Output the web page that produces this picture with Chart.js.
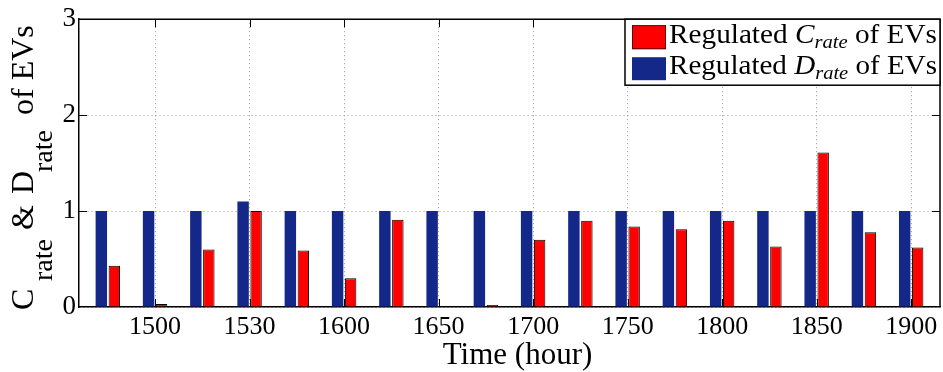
<!DOCTYPE html>
<html>
<head>
<meta charset="utf-8">
<script src="https://cdn.jsdelivr.net/npm/chart.js@4.4.0/dist/chart.umd.min.js"></script>
<style>
  html, body { margin: 0; padding: 0; background: #fff; }
  #wrap { position: relative; width: 943px; height: 372px; }
</style>
</head>
<body>
<div id="wrap"><canvas id="c" width="943" height="372"></canvas></div>
<script>
// groups along the time axis (one per 15 min slot)
const groups = [1, 2, 3, 4, 5, 6, 7, 8, 9, 10, 11, 12, 13, 14, 15, 16, 17, 18];
const tickPos = [2, 4, 6, 8, 10, 12, 14, 16, 18];
const tickLabels = ['1500', '1530', '1600', '1650', '1700', '1750', '1800', '1850', '1900'];

// series values
const dRate = [1, 1, 1, 1.1, 1, 1, 1, 1, 1, 1, 1, 1, 1, 1, 1, 1, 1, 1];
const cRate = [0.43, 0.03, 0.6, 1.0, 0.59, 0.3, 0.91, 0, 0.02, 0.7, 0.9, 0.84, 0.81, 0.9, 0.63, 1.61, 0.78, 0.62];

const BLUE = '#14288a';
const RED = '#ff0000';
const SERIF = '"Liberation Serif", "DejaVu Serif", serif';

// draws the box, inner ticks, the legend and the axis titles (need subscripts)
const decor = {
    id: 'decor',
    afterDraw(chart) {
        const ctx = chart.ctx;
        const a = chart.chartArea;
        const xs = chart.scales.x, ys = chart.scales.y;
        ctx.save();

        // top + right border
        ctx.strokeStyle = '#000';
        ctx.lineWidth = 1.5;
        ctx.beginPath();
        ctx.moveTo(a.left, a.top); ctx.lineTo(a.right, a.top); ctx.lineTo(a.right, a.bottom);
        ctx.stroke();

        // inner ticks
        ctx.lineWidth = 1;
        ctx.beginPath();
        tickPos.forEach(v => {
            const px = Math.round(xs.getPixelForValue(v)) + 0.5;
            ctx.moveTo(px, a.bottom); ctx.lineTo(px, a.bottom - 8);
            ctx.moveTo(px, a.top); ctx.lineTo(px, a.top + 8);
        });
        [1, 2].forEach(v => {
            const py = Math.round(ys.getPixelForValue(v)) + 0.5;
            ctx.moveTo(a.left, py); ctx.lineTo(a.left + 8, py);
            ctx.moveTo(a.right, py); ctx.lineTo(a.right - 8, py);
        });
        ctx.stroke();

        // legend
        const lx = a.right - 315, ly = a.top, lw = 315, lh = 66;
        ctx.fillStyle = '#fff';
        ctx.fillRect(lx, ly, lw, lh);
        ctx.strokeStyle = '#000';
        ctx.lineWidth = 1.5;
        ctx.strokeRect(lx, ly, lw, lh);

        ctx.fillStyle = RED;
        ctx.fillRect(lx + 7, ly + 6, 34, 24);
        ctx.strokeStyle = '#600';
        ctx.lineWidth = 1;
        ctx.strokeRect(lx + 7.5, ly + 6.5, 33, 23);
        ctx.fillStyle = BLUE;
        ctx.fillRect(lx + 7, ly + 38, 34, 23);

        const rows = [['C', 24], ['D', 55]];
        rows.forEach(([sym, base]) => {
            ctx.save();
            ctx.translate(lx + 44, ly + base);
            ctx.fillStyle = '#000';
            ctx.textBaseline = 'alphabetic';
            const parts = [
                ['Regulated ', '27px ' + SERIF, 0],
                [sym, 'italic 27px ' + SERIF, 0],
                ['rate', 'italic 19px ' + SERIF, 5],
                [' of EVs', '27px ' + SERIF, 0]
            ];
            let w = 0;
            parts.forEach(p => { ctx.font = p[1]; w += ctx.measureText(p[0]).width; });
            ctx.scale(268 / w, 1);
            let x = 0;
            parts.forEach(p => {
                ctx.font = p[1];
                ctx.fillText(p[0], x, p[2]);
                x += ctx.measureText(p[0]).width;
            });
            ctx.restore();
        });

        // x axis title
        ctx.fillStyle = '#000';
        ctx.font = '31px ' + SERIF;
        ctx.textAlign = 'center';
        ctx.textBaseline = 'alphabetic';
        ctx.fillText('Time (hour)', (a.left + a.right) / 2 + 8, 364);
        ctx.textAlign = 'left';

        // y axis title, rotated
        ctx.translate(33, 310);
        ctx.rotate(-Math.PI / 2);
        const main = '32px ' + SERIF, sub = '28px ' + SERIF;
        const pieces = [
            ['C', main, 0, 0],
            ['rate', sub, 29, 19],
            ['&', main, 80, 0],
            ['D', main, 116, 0],
            ['rate', sub, 138, 19],
            ['of EVs', main, 195, 0]
        ];
        pieces.forEach(p => {
            ctx.font = p[1];
            ctx.fillText(p[0], p[2], p[3]);
        });
        ctx.restore();
    }
};

new Chart(document.getElementById('c'), {
    type: 'bar',
    data: {
        datasets: [{
            label: 'Regulated D_rate of EVs',
            data: groups.map((g, i) => ({ x: g, y: dRate[i] })),
            backgroundColor: BLUE,
            borderWidth: 0
        }, {
            label: 'Regulated C_rate of EVs',
            data: groups.map((g, i) => ({ x: g, y: cRate[i] })),
            backgroundColor: RED,
            borderColor: '#000',
            borderWidth: 1
        }]
    },
    options: {
        responsive: false,
        animation: false,
        categoryPercentage: 0.55,
        barPercentage: 0.88,
        layout: { padding: { top: 17, right: 3, left: 0, bottom: 0 } },
        plugins: {
            legend: { display: false },
            tooltip: { enabled: false }
        },
        scales: {
            x: {
                type: 'linear',
                min: 0.39,
                max: 18.61,
                offset: false,
                afterBuildTicks: (scale) => { scale.ticks = tickPos.map(v => ({ value: v })); },
                afterFit: (scale) => { scale.height = 65; },
                ticks: {
                    autoSkip: false,
                    maxRotation: 0,
                    padding: 5,
                    color: '#000',
                    font: { family: SERIF, size: 26 },
                    callback: (v) => tickLabels[tickPos.indexOf(v)]
                },
                grid: { color: '#999', drawTicks: false, offset: false },
                border: { color: '#000', width: 1.5, dash: [1, 3] }
            },
            y: {
                min: 0,
                max: 3,
                afterFit: (scale) => { scale.width = 79; },
                ticks: {
                    stepSize: 1,
                    padding: 3,
                    color: '#000',
                    font: { family: SERIF, size: 27 }
                },
                grid: { color: '#999', drawTicks: false },
                border: { color: '#000', width: 1.5, dash: [1, 3] }
            }
        }
    },
    plugins: [decor]
});
</script>
</body>
</html>
